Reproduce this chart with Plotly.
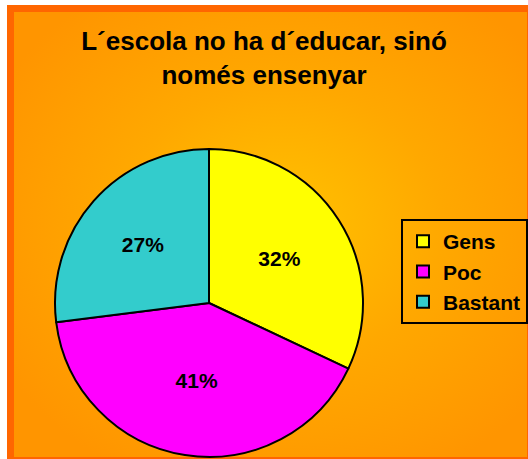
import base64
import plotly.graph_objects as go

# Survey answers
categories = ["Gens", "Poc", "Bastant"]
values = [32, 41, 27]
slice_colors = ["#FFFF00", "#FF00FF", "#33CCCC"]
title_text = "L´escola no ha d´educar, sinó<br>només ensenyar"

W, H = 528, 459
FONT = "Liberation Sans, Arial, sans-serif"

# Chart-area background: orange frame with a soft radial glow
bg_svg = f"""<svg xmlns='http://www.w3.org/2000/svg' width='{W}' height='{H}' viewBox='0 0 {W} {H}'>
<defs><radialGradient id='g' cx='52%' cy='48%' r='62%'>
<stop offset='0' stop-color='#FFC200'/>
<stop offset='0.5' stop-color='#FFA800'/>
<stop offset='1' stop-color='#FF9500'/>
</radialGradient></defs>
<rect x='0' y='0' width='{W}' height='{H}' fill='#FFFFFF'/>
<rect x='10.5' y='8.5' width='520' height='452' fill='url(#g)' stroke='#FF6600' stroke-width='7'/>
</svg>"""
bg_uri = "data:image/svg+xml;base64," + base64.b64encode(bg_svg.encode()).decode()

cx, cy, r = 209, 303, 154

fig = go.Figure(
    go.Pie(
        labels=categories,
        values=values,
        sort=False,
        direction="clockwise",
        rotation=0,
        marker=dict(colors=slice_colors, line=dict(color="#000000", width=2)),
        textinfo="percent",
        texttemplate="%{percent:.0%}",
        textposition="inside",
        insidetextorientation="horizontal",
        textfont=dict(family=FONT, size=21, color="#000000", weight="bold"),
        domain=dict(x=[(cx - r) / W, (cx + r) / W],
                    y=[(H - cy - r) / H, (H - cy + r) / H]),
        hoverinfo="label+percent",
    )
)

fig.update_layout(
    width=W,
    height=H,
    margin=dict(l=0, r=0, t=0, b=0),
    paper_bgcolor="#FFFFFF",
    plot_bgcolor="rgba(0,0,0,0)",
    images=[dict(source=bg_uri, xref="paper", yref="paper", x=0, y=1,
                 sizex=1, sizey=1, xanchor="left", yanchor="top",
                 sizing="stretch", layer="below")],
    title=dict(text=title_text, x=0.5, xanchor="center",
               y=1 - 50 / H, yanchor="top", yref="paper",
               font=dict(family=FONT, size=26, color="#000000", weight="bold")),
    showlegend=True,
    legend=dict(x=401 / W, y=1 - 219 / H, xanchor="left", yanchor="top",
                bgcolor="rgba(0,0,0,0)", bordercolor="#000000", borderwidth=2,
                font=dict(family=FONT, size=21, color="#000000", weight="bold")),
)

fig.write_html("out.html")
